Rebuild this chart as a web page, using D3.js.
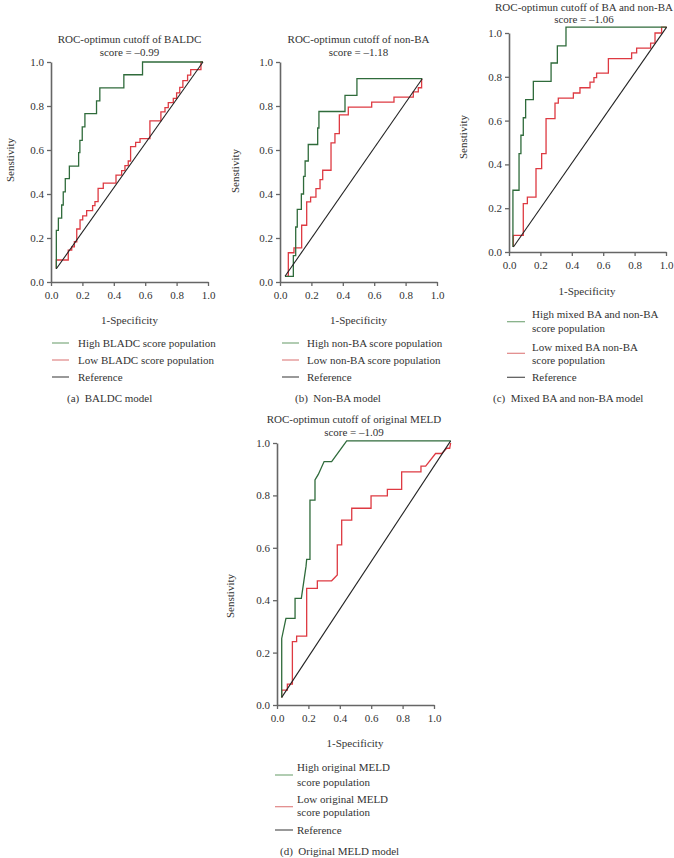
<!DOCTYPE html>
<html><head><meta charset="utf-8">
<script src="https://cdn.jsdelivr.net/npm/d3@7"></script>
<style>
body{margin:0;background:#fff;}
svg text{font-family:"Liberation Serif","DejaVu Serif",serif;font-size:11px;fill:#333;}
</style></head><body>
<svg id="chart" width="674" height="858"></svg>
<script>
// ---------- data ----------
const xTickValues = [0, 0.2, 0.4, 0.6, 0.8, 1.0];
const yTickValues = [0, 0.2, 0.4, 0.6, 0.8, 1.0];
const xAxisTitle = "1-Specificity";
const yAxisTitle = "Senstivity";

const titlesA = ["ROC-optimun cutoff of BALDC", "score = \u20130.99"];
const titlesB = ["ROC-optimun cutoff of non-BA", "score = \u20131.18"];
const titlesC = ["ROC-optimun cutoff of BA and non-BA", "score = \u20131.06"];
const titlesD = ["ROC-optimun cutoff of original MELD", "score = \u20131.09"];

const legendA = [["High BLADC score population"], ["Low BLADC score population"], ["Reference"]];
const legendB = [["High non-BA score population"], ["Low non-BA score population"], ["Reference"]];
const legendC = [["High mixed BA and non-BA", "score population"], ["Low mixed BA non-BA", "score population"], ["Reference"]];
const legendD = [["High original MELD", "score population"], ["Low original MELD", "score population"], ["Reference"]];

const captionA = "(a)\u2002BALDC model";
const captionB = "(b)\u2002Non-BA model";
const captionC = "(c)\u2002Mixed BA and non-BA model";
const captionD = "(d)\u2002Original MELD model";

// ROC points [1-specificity, sensitivity]
const aHigh = [[0.034,0.06],[0.034,0.235],[0.047,0.29],[0.068,0.35],[0.078,0.41],[0.091,0.47],[0.117,0.527],[0.176,0.588],[0.184,0.644],[0.199,0.705],[0.216,0.765],[0.29,0.823],[0.311,0.882],[0.464,0.942],[0.583,1.0],[0.968,1.0]];
const aLow = [[0.034,0.06],[0.034,0.10],[0.11,0.145],[0.132,0.16],[0.149,0.183],[0.164,0.241],[0.185,0.282],[0.202,0.301],[0.227,0.324],[0.265,0.347],[0.28,0.365],[0.30,0.426],[0.333,0.449],[0.414,0.486],[0.45,0.506],[0.471,0.529],[0.492,0.55],[0.507,0.615],[0.539,0.635],[0.567,0.652],[0.63,0.732],[0.70,0.773],[0.726,0.793],[0.747,0.815],[0.779,0.835],[0.80,0.86],[0.82,0.885],[0.84,0.915],[0.87,0.94],[0.89,0.965],[0.93,0.965],[0.955,1.0],[0.968,1.0]];
const aRef = [[0.034,0.06],[0.968,1.0]];

const bHigh = [[0.032,0.026],[0.085,0.12],[0.10,0.25],[0.11,0.33],[0.136,0.40],[0.15,0.48],[0.16,0.55],[0.18,0.625],[0.24,0.70],[0.248,0.775],[0.414,0.848],[0.49,0.924],[0.906,0.924]];
const bLow = [[0.032,0.026],[0.053,0.133],[0.089,0.155],[0.138,0.258],[0.17,0.364],[0.195,0.386],[0.229,0.424],[0.255,0.465],[0.272,0.508],[0.325,0.632],[0.35,0.674],[0.378,0.76],[0.435,0.795],[0.584,0.818],[0.726,0.84],[0.849,0.864],[0.881,0.883],[0.902,0.924]];
const bRef = [[0.032,0.026],[0.906,0.924]];

const cHigh = [[0.025,0.023],[0.025,0.282],[0.064,0.449],[0.076,0.533],[0.091,0.613],[0.106,0.696],[0.155,0.779],[0.268,0.863],[0.308,0.941],[0.363,1.027],[1.004,1.027]];
const cLow = [[0.028,0.023],[0.028,0.076],[0.091,0.221],[0.117,0.251],[0.172,0.381],[0.208,0.449],[0.236,0.609],[0.293,0.68],[0.314,0.703],[0.41,0.726],[0.452,0.75],[0.516,0.776],[0.541,0.796],[0.558,0.817],[0.633,0.883],[0.781,0.909],[0.813,0.931],[0.902,0.954],[0.93,1.0],[0.972,1.027],[1.004,1.027]];
const cRef = [[0.028,0.023],[1.004,1.027]];

const dHigh = [[0.03,0.029],[0.03,0.254],[0.057,0.331],[0.115,0.331],[0.115,0.407],[0.155,0.407],[0.185,0.53],[0.189,0.556],[0.21,0.556],[0.21,0.782],[0.242,0.782],[0.242,0.859],[0.263,0.88],[0.3,0.929],[0.348,0.929],[0.444,1.008],[1.106,1.008]];
const dLow = [[0.03,0.029],[0.03,0.057],[0.066,0.057],[0.066,0.08],[0.098,0.08],[0.098,0.242],[0.125,0.242],[0.125,0.263],[0.189,0.263],[0.189,0.445],[0.257,0.445],[0.257,0.474],[0.348,0.474],[0.384,0.496],[0.384,0.611],[0.412,0.611],[0.412,0.706],[0.476,0.706],[0.476,0.751],[0.599,0.751],[0.599,0.798],[0.703,0.798],[0.703,0.823],[0.794,0.823],[0.794,0.89],[0.917,0.89],[0.917,0.912],[0.947,0.912],[1.01,0.96],[1.049,0.96],[1.081,0.98],[1.1,0.98],[1.106,1.0]];
const dRef = [[0.03,0.029],[1.106,1.008]];

// ---------- styles ----------
const colHigh = "#2f6b3b", colLow = "#de3a42", colRef = "#222";
const legCol = ["#7dab7f", "#e08585", "#555"];

const svg = d3.select("#chart");

function drawPanel(p) {
  const x = d3.scaleLinear().domain([0, 1]).range([p.x0, p.x1]);
  const y = d3.scaleLinear().domain([0, 1]).range([p.y0, p.y1]);
  const g = svg.append("g");

  const xa = g.append("g").attr("transform", `translate(0,${p.y0})`)
    .call(d3.axisBottom(x).tickValues(xTickValues).tickFormat(d3.format(".1f")).tickSize(4).tickSizeOuter(0).tickPadding(5));
  const ya = g.append("g").attr("transform", `translate(${p.x0},0)`)
    .call(d3.axisLeft(y).tickValues(yTickValues).tickFormat(d3.format(".1f")).tickSize(4).tickSizeOuter(0).tickPadding(3));
  [xa, ya].forEach(a => {
    a.select(".domain").attr("stroke", "#666").attr("stroke-width", 1.6);
    a.selectAll(".tick line").attr("stroke", "#666").attr("stroke-width", 1.3);
    a.selectAll(".tick text").attr("font-family", null).attr("font-size", null).style("fill", "#333");
  });

  const line = d3.line().x(d => x(d[0])).y(d => y(d[1])).curve(p.curve);
  const lineLin = d3.line().x(d => x(d[0])).y(d => y(d[1]));
  g.append("path").datum(p.low).attr("d", line).attr("fill", "none").attr("stroke", colLow).attr("stroke-width", 1.3);
  g.append("path").datum(p.high).attr("d", line).attr("fill", "none").attr("stroke", colHigh).attr("stroke-width", 1.3);
  g.append("path").datum(p.ref).attr("d", lineLin).attr("fill", "none").attr("stroke", colRef).attr("stroke-width", 1.1);

  // titles
  p.titles.forEach((t, i) => {
    g.append("text").attr("x", p.titleX).attr("y", p.titleY[i]).attr("text-anchor", "middle")
      .attr("dominant-baseline", "central").text(t);
  });
  // axis titles
  g.append("text").attr("transform", `translate(${p.yLabelX},${p.yLabelY}) rotate(-90)`)
    .attr("text-anchor", "middle").attr("dominant-baseline", "central").text(yAxisTitle);
  g.append("text").attr("x", p.xLabelX).attr("y", p.xLabelY).attr("text-anchor", "middle")
    .attr("dominant-baseline", "central").text(xAxisTitle);

  // legend
  p.legend.forEach((lines, i) => {
    g.append("line").attr("x1", p.legLineX[0]).attr("x2", p.legLineX[1])
      .attr("y1", p.legLineY[i]).attr("y2", p.legLineY[i]).attr("stroke", legCol[i]).attr("stroke-width", 1.2);
    lines.forEach((t, j) => {
      g.append("text").attr("x", p.legTextX).attr("y", p.legTextY[i][j])
        .attr("dominant-baseline", "central").text(t);
    });
  });
  // caption
  g.append("text").attr("x", p.capX).attr("y", p.capY).attr("dominant-baseline", "central").text(p.caption);
}

drawPanel({x0:51, x1:208, y0:282, y1:62, curve:d3.curveStepAfter,
  high:aHigh, low:aLow, ref:aRef, titles:titlesA, titleX:129.5, titleY:[39,52],
  yLabelX:10, yLabelY:160, xLabelX:129.5, xLabelY:320,
  legend:legendA, legLineX:[52,69], legTextX:78, legTextY:[[343],[360],[377]], legLineY:[343,360,377],
  caption:captionA, capX:67, capY:398});

drawPanel({x0:280, x1:437, y0:282, y1:62, curve:d3.curveStepAfter,
  high:bHigh, low:bLow, ref:bRef, titles:titlesB, titleX:358.5, titleY:[39,52],
  yLabelX:235, yLabelY:171, xLabelX:358.5, xLabelY:320,
  legend:legendB, legLineX:[282,299], legTextX:307, legTextY:[[343],[360],[377]], legLineY:[343,360,377],
  caption:captionB, capX:295, capY:398});

drawPanel({x0:509, x1:666, y0:252, y1:33, curve:d3.curveStepAfter,
  high:cHigh, low:cLow, ref:cRef, titles:titlesC, titleX:584, titleY:[6.5,19],
  yLabelX:463, yLabelY:137, xLabelX:587, xLabelY:291,
  legend:legendC, legLineX:[507,525], legTextX:532, legTextY:[[314.3,328.3],[347.3,360],[377.3]], legLineY:[321.7,353.3,377.3],
  caption:captionC, capX:493, capY:398});

drawPanel({x0:277, x1:434, y0:705, y1:443, curve:d3.curveLinear,
  high:dHigh, low:dLow, ref:dRef, titles:titlesD, titleX:354, titleY:[419.3,431.7],
  yLabelX:230, yLabelY:596, xLabelX:355, xLabelY:743,
  legend:legendD, legLineX:[275,293], legTextX:297, legTextY:[[767.3,781.7],[799.3,812.3],[830]], legLineY:[775,806.7,830],
  caption:captionD, capX:280, capY:850.7});
</script>
</body></html>
